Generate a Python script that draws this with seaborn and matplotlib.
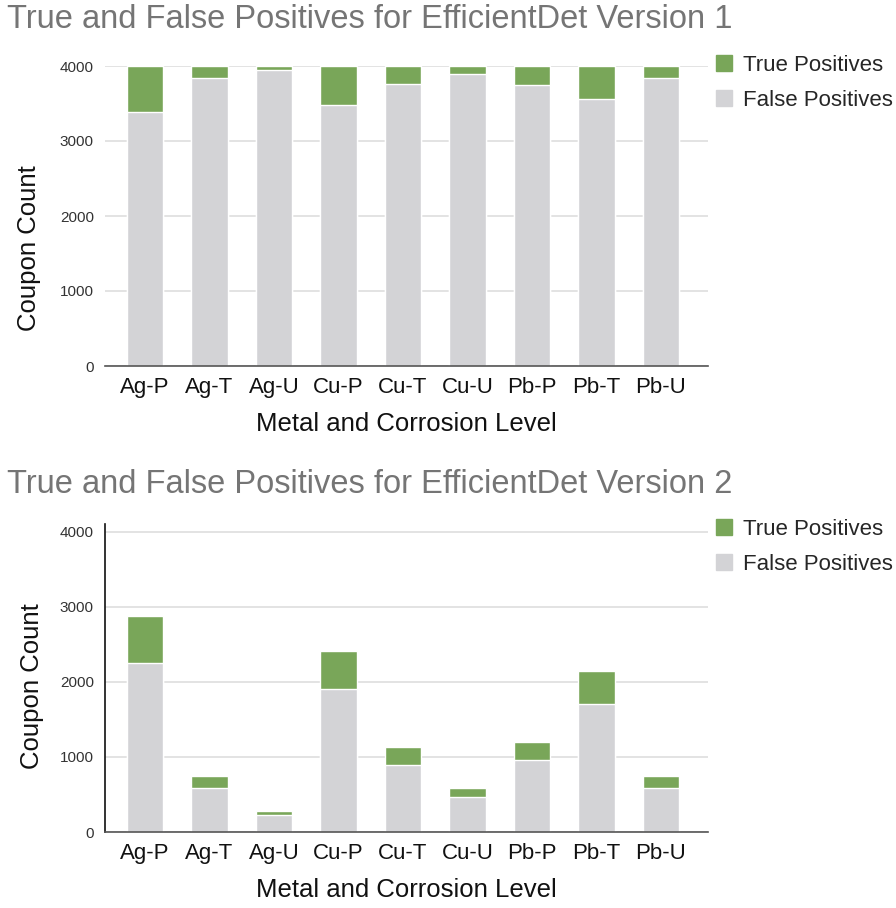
import matplotlib
matplotlib.use("Agg")
import matplotlib.pyplot as plt
import matplotlib.patches as mpatches
import seaborn as sns
import pandas as pd

categories = ["Ag-P", "Ag-T", "Ag-U", "Cu-P", "Cu-T", "Cu-U", "Pb-P", "Pb-T", "Pb-U"]

# EfficientDet version 1
v1_false_pos = [3385, 3840, 3945, 3480, 3765, 3890, 3750, 3565, 3840]
v1_true_pos = [615, 160, 55, 520, 235, 110, 250, 435, 160]

# EfficientDet version 2
v2_false_pos = [2255, 590, 222, 1900, 890, 460, 965, 1700, 590]
v2_true_pos = [620, 157, 54, 513, 235, 130, 230, 447, 157]

titles = ["True and False Positives for EfficientDet Version 1",
          "True and False Positives for EfficientDet Version 2"]
y_ticks = [0, 1000, 2000, 3000, 4000]

GREEN = "#79a659"
GREY = "#d3d3d6"
TITLE_GREY = "#757575"
GRID = "#dedede"

sns.set_theme(style="white")
plt.rcParams["font.family"] = ["Liberation Sans", "DejaVu Sans"]

fig = plt.figure(figsize=(8.96, 9.08), dpi=100)
W, H = 896, 908

def px_axes(left, top, right, bottom):
    return fig.add_axes([left / W, 1 - bottom / H, (right - left) / W, (bottom - top) / H])

panels = [
    dict(tp=v1_true_pos, fp=v1_false_pos, title=titles[0], title_y=19,
         ax_box=(105, 66, 708, 366), ymax=4000, leg_y=55, spine=False,
         ylab_pos=(-0.106, 0.393)),
    dict(tp=v2_true_pos, fp=v2_false_pos, title=titles[1], title_y=484,
         ax_box=(105, 524, 708, 832), ymax=4100, leg_y=519, spine=True,
         ylab_pos=(-0.101, 0.474)),
]

for p in panels:
    df = pd.DataFrame({"category": categories, "tp": p["tp"], "fp": p["fp"]})
    df["total"] = df["tp"] + df["fp"]

    ax = px_axes(*p["ax_box"])
    # stacked look: total in green, false positives drawn over it in grey
    sns.barplot(data=df, x="category", y="total", color=GREEN, width=0.57,
                saturation=1, ax=ax, zorder=3)
    sns.barplot(data=df, x="category", y="fp", color=GREY, width=0.57,
                saturation=1, ax=ax, zorder=3)

    ax.set_xlim(-0.62, 8.73)
    ax.set_ylim(0, p["ymax"])
    ax.set_yticks(y_ticks)
    ax.set_yticklabels([str(t) for t in y_ticks], fontsize=11, color="#333333")
    ax.tick_params(axis="x", labelsize=16, length=0, pad=8, colors="#111111")
    ax.tick_params(axis="y", length=0, pad=8)
    ax.grid(axis="y", color=GRID, linewidth=1.2, zorder=0)
    ax.set_axisbelow(True)

    for s in ["top", "right", "left"]:
        ax.spines[s].set_visible(False)
    ax.spines["bottom"].set_color("#555555")
    ax.spines["bottom"].set_linewidth(1.2)
    ax.spines["bottom"].set_zorder(4)
    if p["spine"]:
        ax.spines["left"].set_visible(True)
        ax.spines["left"].set_color("#111111")
        ax.spines["left"].set_linewidth(1.2)

    ax.set_xlabel("Metal and Corrosion Level", fontsize=18.5, color="#111111", labelpad=10)
    ax.set_ylabel("Coupon Count", fontsize=18.5, color="#111111")
    ax.yaxis.set_label_coords(*p["ylab_pos"])

    fig.text(7 / W, 1 - p["title_y"] / H, p["title"], fontsize=23.5,
             color=TITLE_GREY, va="center", ha="left")

    handles = [mpatches.Patch(color=GREEN, label="True Positives"),
               mpatches.Patch(color=GREY, label="False Positives")]
    fig.legend(handles=handles, loc="upper left",
               bbox_to_anchor=(716 / W, 1 - p["leg_y"] / H), frameon=False,
               fontsize=16, handlelength=0.7, handleheight=0.7,
               handletextpad=0.5, labelspacing=0.62, borderpad=0,
               borderaxespad=0)

fig.savefig("out.png", dpi=100)
